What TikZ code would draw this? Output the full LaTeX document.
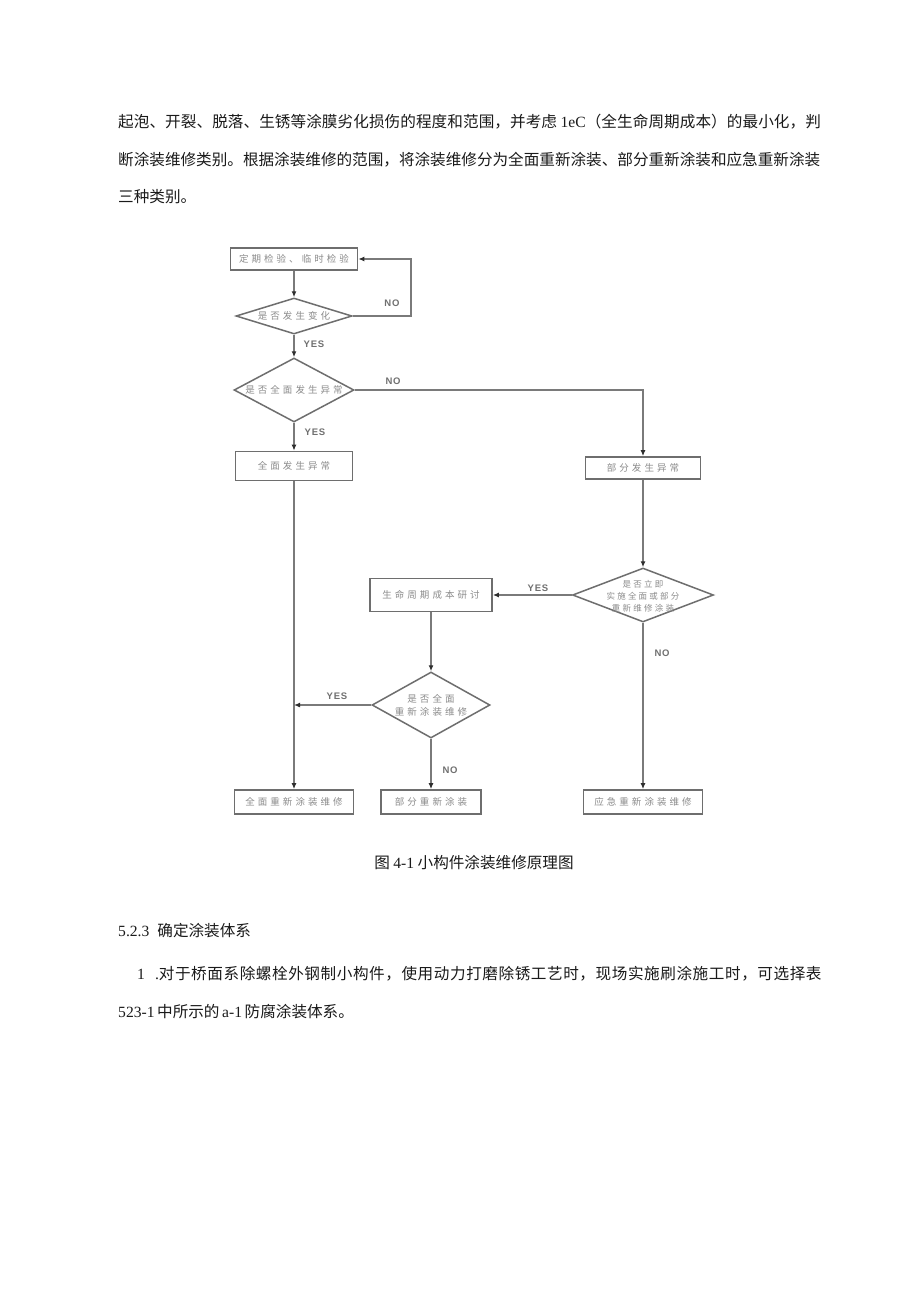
\documentclass[tikz,border=0pt]{standalone}
\usepackage{fontspec}
\setmainfont{Liberation Serif}
\newfontfamily\cjk{Noto Sans CJK SC}
\newfontfamily\cjkwide[LetterSpace=3.7]{Noto Sans CJK SC}
\newfontfamily\cjkslight[LetterSpace=0.5]{Noto Sans CJK SC}
\newfontfamily\boxfont[LetterSpace=32]{Noto Sans CJK SC}
\newfontfamily\smallboxfont[LetterSpace=26]{Noto Sans CJK SC}
\newfontfamily\labfont[LetterSpace=8]{Liberation Sans}
\usetikzlibrary{shapes.geometric,arrows.meta}
\definecolor{boxc}{HTML}{6E6E6E}
\definecolor{linec}{HTML}{7A7A7A}
\definecolor{txtc}{HTML}{8C8C8C}
\definecolor{labc}{HTML}{707070}
\definecolor{tipc}{HTML}{2E2E2E}
\definecolor{bodyc}{HTML}{1A1A1A}
\tikzset{
  body/.style={inner sep=0pt, text=bodyc, font=\fontsize{15.6}{18}\selectfont},
  box/.style={draw=boxc, line width=1.7pt, rectangle, inner sep=0pt, text=txtc,
    font={\boxfont\fontsize{9.5}{11}\selectfont}},
  dia/.style={draw=boxc, line width=1.5pt, diamond, inner sep=0pt},
  dtext/.style={inner sep=0pt, text=txtc, align=center,
    font={\boxfont\fontsize{9.5}{13}\selectfont}},
  dtextsmall/.style={inner sep=0pt, text=txtc, align=center,
    font={\smallboxfont\fontsize{8.5}{12}\selectfont}},
  conn/.style={draw=linec, line width=1.3pt},
  arr/.style={conn, -{Latex[length=6pt,width=5pt,color=tipc]}},
  lab/.style={inner sep=0pt, text=labc, font={\labfont\bfseries\fontsize{9.5}{11}\selectfont}}
}
\begin{document}
\begin{tikzpicture}[x=1pt,y=-1pt]
\fill[white] (0,0) rectangle (920,1301);
\useasboundingbox (0,0) rectangle (920,1301);

% body text
\node[body, anchor=base west] (t1) at (118,127) {{\cjkslight 起泡、开裂、脱落、生锈等涂膜劣化损伤的程度和范围，并考虑 {\rmfamily 1eC}（全生命周期成本）的最小化，判}};
\node[body, anchor=base west] (t2) at (118,165) {{\cjk 断涂装维修类别。根据涂装维修的范围，将涂装维修分为全面重新涂装、部分重新涂装和应急重新涂装}};
\node[body, anchor=base west] (t3) at (118,202) {\cjk 三种类别。};

% flowchart boxes
\node[box, minimum width=127pt, minimum height=22pt] (b1) at (294,259) {定期检验、临时检验};
\node[dia, minimum width=116pt, minimum height=36pt] (d1) at (294,316) {};
\node[dtext] (d1t) at (d1) {是否发生变化};
\node[dia, minimum width=120pt, minimum height=64pt] (d2) at (294,390) {};
\node[dtext] (d2t) at (d2) {是否全面发生异常};
\node[box, minimum width=117pt, minimum height=29pt] (b2) at (294,466) {全面发生异常};
\node[box, minimum width=115pt, minimum height=22pt] (b3) at (643,468) {部分发生异常};
\node[dia, minimum width=141pt, minimum height=54pt] (d3) at (643,595) {};
\node[dtextsmall] (d3t) at (643,596) {是否立即\\实施全面或部分\\重新维修涂装};
\node[box, minimum width=122pt, minimum height=33pt] (b4) at (431,595) {生命周期成本研讨};
\node[dia, minimum width=118pt, minimum height=66pt] (d4) at (431,705) {};
\node[dtext] (d4t) at (d4) {是否全面\\重新涂装维修};
\node[box, minimum width=119pt, minimum height=24pt] (bA) at (294,802) {全面重新涂装维修};
\node[box, minimum width=100pt, minimum height=24pt] (bB) at (431,802) {部分重新涂装};
\node[box, minimum width=119pt, minimum height=24pt] (bC) at (643,802) {应急重新涂装维修};

% connectors
\coordinate (loop) at (411,290);
\draw[arr] (b1) -- (d1);
\draw[arr] (d1.east) -| (loop) |- (b1.east);
\draw[arr] (d1) -- (d2);
\draw[arr] (d2.east) -| (b3.north);
\draw[arr] (d2) -- (b2);
\draw[arr] (b2) -- (bA);
\draw[arr] (b3) -- (d3);
\draw[arr] (d3) -- (b4);
\draw[arr] (d3) -- (bC);
\draw[arr] (b4) -- (d4);
\coordinate (join) at (294,705);
\draw[arr] (d4.west) -- (join);
\draw[arr] (d4) -- (bB);

% connector labels
\node[lab] (noA) at (392,303) {NO};
\node[lab] (yesA) at (314,344) {YES};
\node[lab] (noB) at (393,381) {NO};
\node[lab] (yesB) at (315,432) {YES};
\node[lab] (yesC) at (538,588) {YES};
\node[lab] (noC) at (662,653) {NO};
\node[lab] (yesD) at (337,696) {YES};
\node[lab] (noD) at (450,770) {NO};

% caption and following text
\node[body, anchor=base] (cap) at (474,868) {\cjk 图 {\rmfamily 4-1} 小构件涂装维修原理图};
\node[body, anchor=base west] (h1) at (118,936) {{\rmfamily 5.2.3}\hspace{8pt}{\cjk 确定涂装体系}};
\node[body, anchor=base west] (p1) at (137,979) {{\rmfamily 1\hspace{10pt}.}{\cjkwide 对于桥面系除螺栓外钢制小构件，使用动力打磨除锈工艺时，现场实施刷涂施工时，可选择表}};
\node[body, anchor=base west] (p2) at (118,1017) {{\rmfamily 523-1}\,{\cjk 中所示的}\,{\rmfamily a-1}\,{\cjk 防腐涂装体系。}};
\end{tikzpicture}
\end{document}
